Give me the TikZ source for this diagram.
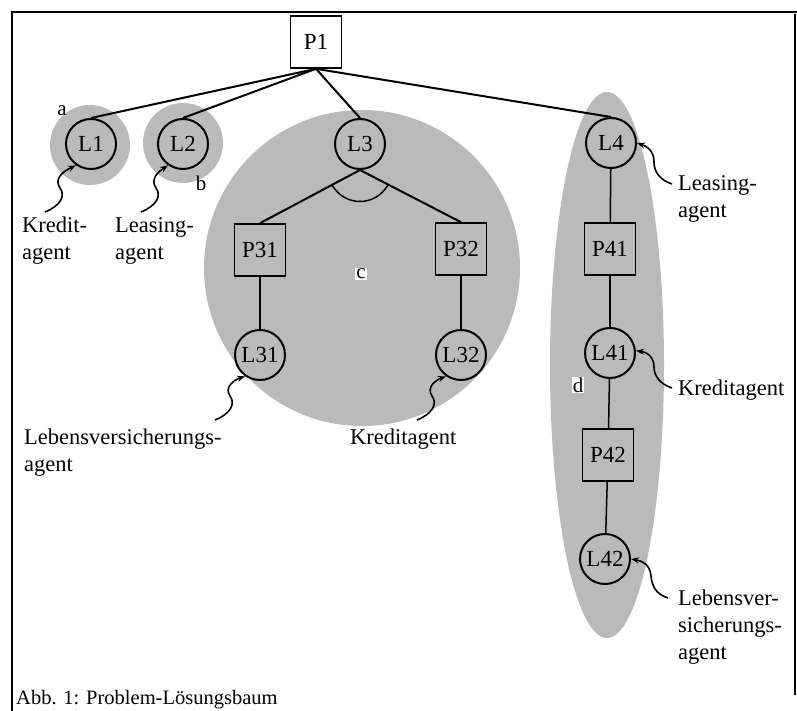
\documentclass[tikz,border=0pt]{standalone}
\usepackage{fontspec}
\setmainfont{Liberation Serif}
\usetikzlibrary{arrows.meta}
\begin{document}
\begin{tikzpicture}[x=1pt,y=-1pt,
  shade/.style={fill=black!27,draw=none},
  lnode/.style={circle,draw,line width=2pt,minimum size=50pt,inner sep=0pt,font=\fontsize{23}{26}\selectfont},
  pnode/.style={rectangle,draw,line width=1.6pt,minimum width=51pt,minimum height=52pt,inner sep=0pt,font=\fontsize{23}{26}\selectfont},
  edge/.style={line width=2pt},
  thinedge/.style={line width=1.5pt},
  lbl/.style={anchor=north west,inner sep=0pt,align=left,font=\fontsize{22.5}{27}\selectfont},
  letter/.style={inner sep=1pt,font=\fontsize{21}{24}\selectfont},
  wiggle/.style={line width=1.6pt,-{Stealth[length=8pt,width=6pt]}}]
\useasboundingbox (0,0) rectangle (797,711);
% frame
\draw[line width=1.8pt] (12,711) -- (12,12) -- (797,12);
\draw[line width=1.2pt] (795,14) -- (795,695);
% shaded regions
\fill[shade] (90,145) circle[radius=40];
\fill[shade] (183,143) circle[radius=40];
\fill[shade] (362,268) circle[radius=158];
\fill[shade] (607,365) ellipse[x radius=57,y radius=273];
% nodes
\node[pnode,fill=white] (P1) at (316,42) {P1};
\node[lnode] (L1) at (91,144) {L1};
\node[lnode] (L2) at (183,144) {L2};
\node[lnode] (L3) at (360,144) {L3};
\node[lnode] (L4) at (611,143) {L4};
\node[pnode] (P31) at (260,250) {P31};
\node[pnode] (P32) at (461,249) {P32};
\node[lnode] (L31) at (260,355) {L31};
\node[lnode] (L32) at (461,355) {L32};
\node[pnode] (P41) at (610,249) {P41};
\node[lnode] (L41) at (610,353) {L41};
\node[pnode] (P42) at (608,455) {P42};
\node[lnode] (L42) at (605,559) {L42};
% tree edges
\draw[edge] (P1.south) -- (L1.north);
\draw[edge] (P1.south) -- (L2.north);
\draw[edge] (P1.south) -- (L3.north);
\draw[edge] (P1.south) -- (L4.north);
\draw[edge] (L3.south) -- (P31.north);
\draw[edge] (L3.south) -- (P32.north);
\draw[thinedge] (332,185) .. controls (345,207) and (375,207) .. (388,185);
\draw[thinedge] (P31) -- (L31);
\draw[thinedge] (P32) -- (L32);
\draw[thinedge] (L4) -- (P41);
\draw[thinedge] (P41) -- (L41);
\draw[thinedge] (L41) -- (P42);
\draw[thinedge] (P42) -- (L42);
% letters
\node[letter] (a) at (62,111) {a};
\node[letter] (b) at (201,183) {b};
\node[letter,fill=white] (c) at (361,274) {c};
\node[letter,fill=white] (d) at (578,385) {d};
% labels
\node[lbl] (t1) at (22,217) {Kredit-\\agent};
\node[lbl] (t2) at (115,217) {Leasing-\\agent};
\node[lbl] (t31) at (24,429) {Lebensversicherungs-\\agent};
\node[lbl] (t32) at (350,429) {Kreditagent};
\node[lbl] (t4) at (678,175) {Leasing-\\agent};
\node[lbl] (t41) at (678,380) {Kreditagent};
\node[lbl] (t42) at (678,590) {Lebensver-\\sicherungs-\\agent};
% wiggly pointers
\coordinate (s1) at (45,212);
\coordinate (s2) at (141,212);
\coordinate (s31) at (215,420);
\coordinate (s32) at (417,420);
\coordinate (s4) at (672,184);
\coordinate (s41) at (672,388);
\coordinate (s42) at (668,598);
\draw[wiggle] (s1) .. controls (60,206) and (66,196) .. (60,188) .. controls (54,179) and (62,172) .. (L1.235);
\draw[wiggle] (s2) .. controls (156,206) and (162,196) .. (156,188) .. controls (150,179) and (158,172) .. (L2.235);
\draw[wiggle] (s31) .. controls (230,414) and (236,404) .. (230,396) .. controls (224,387) and (234,380) .. (L31.235);
\draw[wiggle] (s32) .. controls (432,414) and (438,404) .. (432,396) .. controls (426,387) and (436,380) .. (L32.235);
\draw[wiggle] (s4) .. controls (660,180) and (654,172) .. (654,162) .. controls (654,150) and (646,146) .. (L4.0);
\draw[wiggle] (s41) .. controls (660,384) and (654,376) .. (654,367) .. controls (654,356) and (646,352) .. (L41.5);
\draw[wiggle] (s42) .. controls (655,594) and (652,585) .. (651,576) .. controls (650,565) and (643,561) .. (L42.0);
% caption
\node[anchor=base west,inner sep=0pt,font=\fontsize{20.5}{24}\selectfont] (cap) at (16,704) {Abb. 1: Problem-Lösungsbaum};
\end{tikzpicture}
\end{document}
